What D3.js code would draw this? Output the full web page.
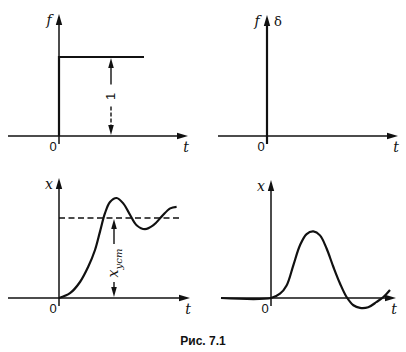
<!DOCTYPE html>
<html><head><meta charset="utf-8">
<script src="https://cdn.jsdelivr.net/npm/d3@7"></script>
<style>body{margin:0;background:#fff}svg{display:block}</style>
</head><body>
<script>
// ---- data ----
const stepT = [0, 0, 2.125];
const stepF = [0, 1, 1];
const stepDimT = 1.3;
const stepLabel = "1";

const respT = [0, 0.275, 0.525, 0.73, 0.9, 1.025, 1.15, 1.275, 1.44, 1.61, 1.775, 1.94, 2.15, 2.36, 2.57, 2.78, 2.94];
const respX = [0, 0.06, 0.20, 0.39, 0.60, 0.83, 1.06, 1.20, 1.25, 1.18, 1.04, 0.91, 0.86, 0.91, 1.02, 1.12, 1.14];
const xSteady = 1;
const steadyDashEnd = 3.075;
const steadyDimT = 1.375;

const impT = [-1.25, 0, 0.225, 0.39, 0.56, 0.725, 0.89, 1.06, 1.225, 1.39, 1.56, 1.725, 1.89, 2.06, 2.225, 2.43, 2.64, 2.81, 2.975];
const impX = [0, 0, 0.065, 0.19, 0.50, 0.80, 0.97, 1.01, 0.95, 0.75, 0.47, 0.22, 0.015, -0.11, -0.15, -0.14, -0.06, 0.015, 0.12];

const panelTDomain = [[-1.275, 3.225], [-1.225, 3.275], [-1.275, 3.275], [-1.25, 3.125]];
const panelYDomain = [[0, 1.544], [0, 1.53], [0, 1.5], [0, 1.79]];
const yLabels = ["f", "f", "x", "x"];
const caption = "Рис. 7.1";

// ---- layout ----
const W = 406, H = 352;
const svg = d3.select("body").append("svg").attr("width", W).attr("height", H);
const ink = "#111";
const panelPx = [
  {x0: 8, x1: 188, yb: 136, yt: 14},
  {x0: 218, x1: 398, yb: 136, yt: 15},
  {x0: 8, x1: 190, yb: 298, yt: 178},
  {x0: 221, x1: 396, yb: 298, yt: 180}
];
const panels = panelPx.map((p, i) => ({
  x: d3.scaleLinear().domain(panelTDomain[i]).range([p.x0, p.x1]),
  y: d3.scaleLinear().domain(panelYDomain[i]).range([p.yb, p.yt])
}));

function arrowHead(g, x, y, dir, len = 10, w = 3) {
  let pts;
  if (dir === 'up') pts = [[x, y], [x - w, y + len], [x + w, y + len]];
  if (dir === 'down') pts = [[x, y], [x - w, y - len], [x + w, y - len]];
  if (dir === 'right') pts = [[x, y], [x - len, y - w], [x - len, y + w]];
  g.append("path").attr("d", "M" + pts.map(p => p.join(",")).join("L") + "Z").attr("fill", ink);
}

panels.forEach((p, i) => {
  const g = svg.append("g");
  const [t0, t1] = panelTDomain[i];
  const [v0, v1] = panelYDomain[i];
  const ox = p.x(0), oy = p.y(0);
  g.append("line").attr("x1", p.x(t0)).attr("x2", p.x(t1) - 6).attr("y1", oy).attr("y2", oy)
    .attr("stroke", ink).attr("stroke-width", 1.6);
  arrowHead(g, p.x(t1), oy, 'right', 11, 3.2);
  g.append("line").attr("x1", ox).attr("x2", ox).attr("y1", oy + 8).attr("y2", p.y(v1) + 6)
    .attr("stroke", ink).attr("stroke-width", i === 1 ? 2.2 : 1.5);
  arrowHead(g, ox, p.y(v1), 'up', 11, 3.2);
  g.append("text").attr("x", ox - 10).attr("y", p.y(v1) + 11).attr("text-anchor", "middle")
    .attr("font-family", "DejaVu Serif").attr("font-style", "italic").attr("font-size", 14)
    .attr("fill", ink).text(yLabels[i]);
  g.append("text").attr("x", ox - 6).attr("y", oy + 15).attr("text-anchor", "middle")
    .attr("font-family", "Liberation Sans").attr("font-size", 13).attr("fill", ink).text("0");
  g.append("text").attr("x", p.x(t1) - 2).attr("y", oy + 16).attr("text-anchor", "middle")
    .attr("font-family", "DejaVu Serif").attr("font-style", "italic").attr("font-size", 14)
    .attr("fill", ink).text("t");
});

// Panel 1: unit step
{
  const p = panels[0];
  const line = d3.line().x(d => p.x(d[0])).y(d => p.y(d[1]));
  svg.append("path").attr("d", line(stepT.map((t, k) => [t, stepF[k]])))
    .attr("fill", "none").attr("stroke", ink).attr("stroke-width", 2.2);
  const dx = p.x(stepDimT), top = p.y(1), bot = p.y(0), mid = (top + bot) / 2;
  svg.append("line").attr("x1", dx).attr("x2", dx).attr("y1", top + 8).attr("y2", mid - 12)
    .attr("stroke", ink).attr("stroke-width", 1.4);
  svg.append("line").attr("x1", dx).attr("x2", dx).attr("y1", mid + 10).attr("y2", bot - 8)
    .attr("stroke", ink).attr("stroke-width", 1.4).attr("stroke-dasharray", "4,2");
  arrowHead(svg, dx, top + 1, 'up', 10, 2.8);
  arrowHead(svg, dx, bot - 1, 'down', 10, 2.8);
  svg.append("text").attr("transform", `translate(${dx + 4},${mid}) rotate(-90)`)
    .attr("text-anchor", "middle").attr("font-family", "Liberation Sans").attr("font-size", 13)
    .attr("fill", ink).text(stepLabel);
}

// Panel 2: delta label
{
  const p = panels[1];
  svg.append("text").attr("x", p.x(0) + 11).attr("y", p.y(panelYDomain[1][1]) + 11)
    .attr("text-anchor", "middle").attr("font-family", "DejaVu Serif").attr("font-size", 13)
    .attr("fill", ink).text("δ");
}

// Panel 3: step response
{
  const p = panels[2];
  const line = d3.line().x(d => p.x(d[0])).y(d => p.y(d[1])).curve(d3.curveCatmullRom.alpha(0.5));
  svg.append("line").attr("x1", p.x(0)).attr("x2", p.x(steadyDashEnd))
    .attr("y1", p.y(xSteady)).attr("y2", p.y(xSteady))
    .attr("stroke", ink).attr("stroke-width", 1.4).attr("stroke-dasharray", "6,3.5");
  svg.append("path").attr("d", line(respT.map((t, k) => [t, respX[k]])))
    .attr("fill", "none").attr("stroke", ink).attr("stroke-width", 2.2);
  const dx = p.x(steadyDimT), top = p.y(xSteady), bot = p.y(0);
  svg.append("line").attr("x1", dx).attr("x2", dx).attr("y1", top + 8).attr("y2", 244)
    .attr("stroke", ink).attr("stroke-width", 1.4);
  svg.append("line").attr("x1", dx).attr("x2", dx).attr("y1", 282).attr("y2", bot - 8)
    .attr("stroke", ink).attr("stroke-width", 1.4);
  arrowHead(svg, dx, top + 1, 'up', 10, 2.8);
  arrowHead(svg, dx, bot - 1, 'down', 10, 2.8);
  const lbl = svg.append("text").attr("transform", `translate(${dx + 4},263) rotate(-90)`)
    .attr("text-anchor", "middle").attr("font-family", "DejaVu Serif").attr("font-size", 14)
    .attr("fill", ink);
  lbl.append("tspan").attr("font-style", "italic").text("x");
  lbl.append("tspan").attr("font-style", "italic").attr("font-size", 10).attr("dy", 4).text("уст");
}

// Panel 4: impulse response
{
  const p = panels[3];
  const line = d3.line().x(d => p.x(d[0])).y(d => p.y(d[1])).curve(d3.curveCatmullRom.alpha(0.5));
  svg.append("path").attr("d", line(impT.map((t, k) => [t, impX[k]])))
    .attr("fill", "none").attr("stroke", ink).attr("stroke-width", 2.2);
}

svg.append("text").attr("x", 203).attr("y", 345).attr("text-anchor", "middle")
  .attr("font-family", "Liberation Sans").attr("font-weight", "bold").attr("font-size", 12)
  .attr("fill", ink).text(caption);
</script>
</body></html>
